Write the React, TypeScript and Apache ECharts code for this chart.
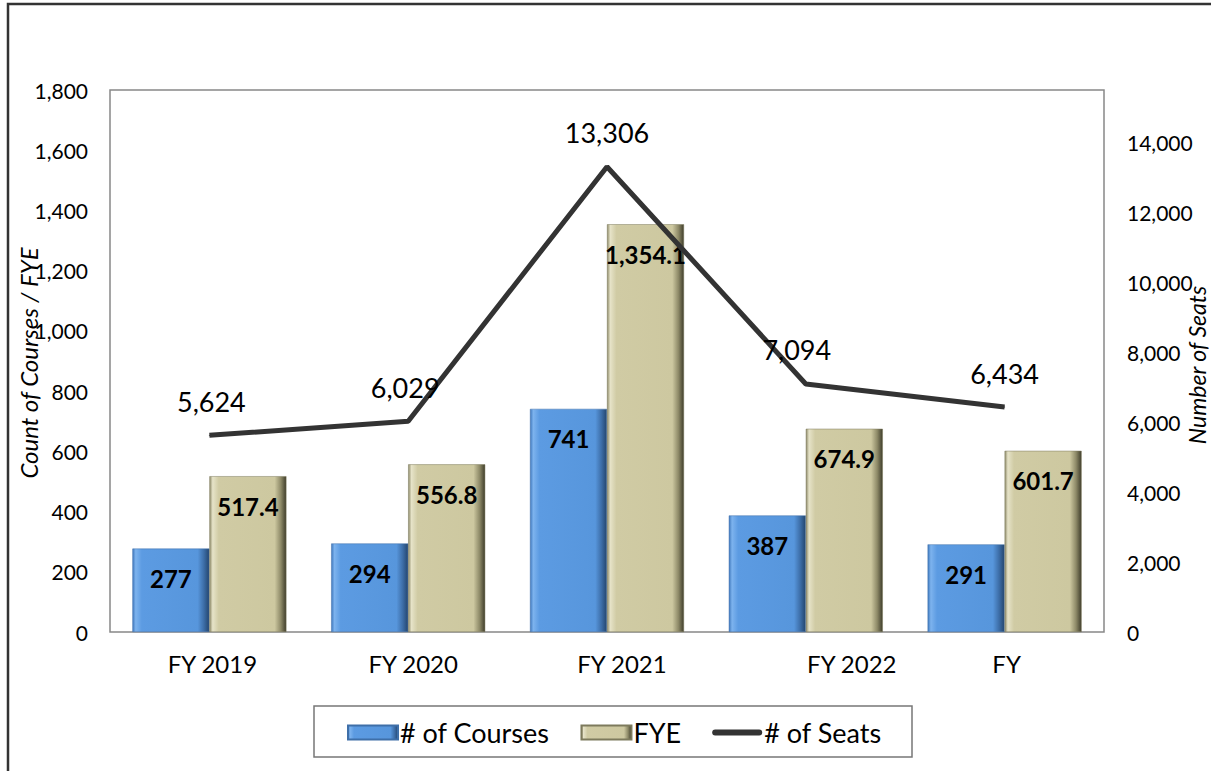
import React, { useEffect, useRef } from "react";
import * as echarts from "echarts";

const categories = ["FY 2019", "FY 2020", "FY 2021", "FY 2022", "FY"];
const courses = [277, 294, 741, 387, 291];
const fye = [517.4, 556.8, 1354.1, 674.9, 601.7];
const seats = [5624, 6029, 13306, 7094, 6434];
const leftTicks = { min: 0, max: 1800, interval: 200 };
const rightTicks = { min: 0, max: 15500, interval: 2000 };

const labelShift = [3, 5, 15, 46, 2];
const seatLabelShift = [2, -3, 0, -9, 0];
const FONT = "Lato, 'Open Sans', sans-serif";

const blueFill = new echarts.graphic.LinearGradient(0, 0, 1, 0, [
  { offset: 0, color: "#3f78bd" },
  { offset: 0.04, color: "#7db3ee" },
  { offset: 0.12, color: "#5c9be2" },
  { offset: 0.85, color: "#5796dc" },
  { offset: 0.93, color: "#3d6ea8" },
  { offset: 1, color: "#24466f" },
]);
const khakiFill = new echarts.graphic.LinearGradient(0, 0, 1, 0, [
  { offset: 0, color: "#8f8b6a" },
  { offset: 0.04, color: "#e6e3c8" },
  { offset: 0.12, color: "#d0cba4" },
  { offset: 0.85, color: "#cdc8a0" },
  { offset: 0.93, color: "#8e8a68" },
  { offset: 1, color: "#3f3d2b" },
]);

export default function App() {
  const ref = useRef<HTMLDivElement>(null);
  useEffect(() => {
    if (!ref.current) return;
    const chart = echarts.init(ref.current, null, { renderer: "svg" });
    const rich: Record<string, any> = {};
    labelShift.forEach((s, i) => {
      rich["c" + i] = {
        fontSize: 24,
        fontFamily: FONT,
        color: "#000",
        padding: [0, 0, 0, s * 2],
      };
    });
    chart.setOption({
      animation: false,
      backgroundColor: "#fff",
      textStyle: { fontFamily: FONT },
      grid: { left: 110, right: 107, top: 90, bottom: 139, show: true, borderColor: "#888", borderWidth: 1.5 },
      xAxis: {
        type: "category",
        data: categories,
        axisLine: { show: false },
        axisTick: { show: false },
        axisLabel: {
          margin: 19,
          formatter: (v: string, i: number) => `{c${i}|${v}}`,
          rich,
        },
      },
      yAxis: [
        {
          type: "value",
          ...leftTicks,
          splitLine: { show: false },
          axisLine: { show: false },
          axisTick: { show: false },
          axisLabel: {
            margin: 22,
            fontSize: 21,
            color: "#000",
            fontFamily: FONT,
            formatter: (v: number) => v.toLocaleString("en-US"),
          },
        },
        {
          type: "value",
          ...rightTicks,
          splitLine: { show: false },
          axisLine: { show: false },
          axisTick: { show: false },
          axisLabel: {
            margin: 23,
            fontSize: 21,
            color: "#000",
            fontFamily: FONT,
            showMaxLabel: false,
            formatter: (v: number) => v.toLocaleString("en-US"),
          },
        },
      ],
      legend: {
        left: 342,
        top: 714,
        itemWidth: 50,
        itemHeight: 14,
        itemGap: 31,
        textStyle: { fontSize: 27, color: "#000", fontFamily: FONT, padding: [0, 0, 0, -3] },
        data: [
          { name: "# of Courses", icon: "rect" },
          { name: "FYE", icon: "rect" },
          {
            name: "# of Seats",
            icon: "path://M3,0 L47,0 A3,3 0 0 1 47,6 L3,6 A3,3 0 0 1 3,0 Z",
            itemStyle: { color: "#333" },
          },
        ],
      },
      series: [
        {
          name: "# of Courses",
          type: "bar",
          yAxisIndex: 0,
          data: courses,
          barWidth: 77,
          barGap: "0%",
          itemStyle: { color: blueFill, borderColor: "#3e6fa8", borderWidth: 0.5 },
          label: {
            show: true,
            position: "insideTop",
            distance: 18,
            fontSize: 24,
            fontWeight: "bold",
            color: "#000",
            fontFamily: FONT,
            formatter: (p: any) => p.value.toLocaleString("en-US"),
          },
        },
        {
          name: "FYE",
          type: "bar",
          yAxisIndex: 0,
          data: fye,
          barWidth: 77,
          itemStyle: { color: khakiFill, borderColor: "#7d7a5c", borderWidth: 0.5 },
          label: {
            show: true,
            position: "insideTop",
            distance: 18,
            fontSize: 24,
            fontWeight: "bold",
            color: "#000",
            fontFamily: FONT,
            formatter: (p: any) =>
              p.value.toLocaleString("en-US", { minimumFractionDigits: 1, maximumFractionDigits: 1 }),
          },
        },
        {
          name: "# of Seats",
          type: "line",
          yAxisIndex: 1,
          data: seats.map((v, i) => ({ value: v, label: { offset: [seatLabelShift[i], 0] } })),
          symbol: "circle",
          symbolSize: 1,
          showSymbol: true,
          lineStyle: { color: "#333", width: 5 },
          itemStyle: { color: "#333" },
          label: {
            show: true,
            position: "top",
            distance: 20,
            fontSize: 27,
            color: "#000",
            fontFamily: FONT,
            formatter: (p: any) => p.value.toLocaleString("en-US"),
          },
        },
      ],
      graphic: [
        {
          type: "rect",
          shape: { x: 8, y: 4, width: 1230, height: 800 },
          style: { fill: "none", stroke: "#333", lineWidth: 2.5 },
          silent: true,
        },
        {
          type: "rect",
          shape: { x: 314, y: 706, width: 598, height: 51 },
          style: { fill: "none", stroke: "#777", lineWidth: 1.5 },
          silent: true,
        },
        {
          type: "text",
          x: 28,
          y: 363,
          rotation: Math.PI / 2,
          style: {
            text: "Count of Courses / FYE",
            fontSize: 24,
            fontStyle: "italic",
            fontFamily: FONT,
            fill: "#000",
            align: "center",
            verticalAlign: "middle",
          },
        },
        {
          type: "text",
          x: 1197,
          y: 365,
          rotation: Math.PI / 2,
          style: {
            text: "Number of Seats",
            fontSize: 23,
            fontStyle: "italic",
            fontFamily: FONT,
            fill: "#000",
            align: "center",
            verticalAlign: "middle",
          },
        },
      ],
    });
    return () => chart.dispose();
  }, []);
  return (
    <div
      ref={ref}
      style={{ position: "fixed", left: 0, top: 0, width: 1211, height: 771 }}
    />
  );
}
